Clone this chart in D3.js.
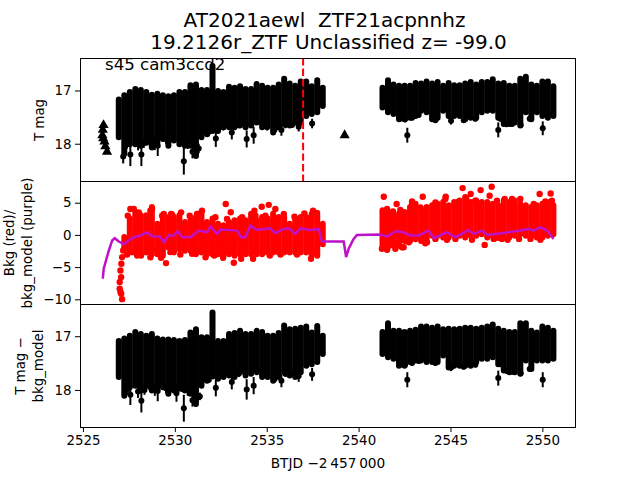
<!DOCTYPE html>
<html><head><meta charset="utf-8">
<script src="https://cdn.jsdelivr.net/npm/d3@7"></script>
<style>html,body{margin:0;padding:0;background:#fff}svg{display:block}text{font-family:"DejaVu Sans",sans-serif;fill:#000;white-space:pre}</style>
</head><body><svg id="c" width="640" height="480"></svg>
<script>
const titleLines = ["AT2021aewl  ZTF21acpnnhz", "19.2126r_ZTF Unclassified z= -99.0"];
const sectorLabel = "s45 cam3ccd2";
const xTicks = [2525, 2530, 2535, 2540, 2545, 2550];
const magTicks = [17, 18];
const bkgTicks = [5, 0, -5, -10];
const flagTime = 2536.98;

// Sampling times of the dense light-curve bands
const leftT = [2526.95,2527.25,2527.55,2527.85,2528.15,2528.45,2528.75,2529.05,2529.35,2529.65,2529.95,2530.25,2530.55,2530.85,2531.15,2531.45,2531.75,2532.05,2532.35,2532.65,2532.95,2533.25,2533.55,2533.85,2534.15,2534.45,2534.75,2535.05,2535.35,2535.65,2535.95,2536.25,2536.55,2536.85,2537.15,2537.45,2537.75,2538.05];
const rightT = [2541.3,2541.6,2541.9,2542.2,2542.5,2542.8,2543.1,2543.4,2543.7,2544.0,2544.3,2544.6,2544.9,2545.2,2545.5,2545.8,2546.1,2546.4,2546.7,2547.0,2547.3,2547.6,2547.9,2548.2,2548.5,2548.8,2549.1,2549.4,2549.7,2550.0,2550.3,2550.6];

// Top panel: T mag, bright and faint edges of the band
const magLeftHi = [17.17,17.09,17.03,16.97,16.99,17.03,17.08,17.06,17.09,17.11,17.09,17.03,17.03,16.90,16.89,16.99,16.99,16.54,17.01,17.03,16.93,16.95,16.92,16.97,16.97,16.88,16.91,16.95,16.95,16.89,16.78,16.87,16.91,16.83,16.83,16.92,16.81,16.95];
const magLeftLo = [17.88,18.19,18.01,18.01,18.04,17.98,18.07,17.98,17.91,18.04,17.94,18.01,18.04,18.04,18.23,17.88,17.82,17.76,17.76,17.69,17.69,17.69,17.66,17.69,17.66,17.60,17.69,17.66,17.79,17.69,17.63,17.66,17.60,17.60,17.48,17.44,17.41,17.29];
const magRightHi = [16.95,16.81,16.89,16.91,16.91,16.91,16.86,16.87,16.83,16.87,16.84,16.91,16.86,16.90,16.90,16.87,16.84,16.89,16.84,16.84,16.79,16.87,16.86,16.91,16.91,16.78,16.74,16.89,16.91,16.83,16.83,16.92];
const magRightLo = [17.32,17.41,17.44,17.54,17.54,17.51,17.48,17.38,17.41,17.54,17.51,17.38,17.48,17.48,17.48,17.54,17.51,17.51,17.41,17.38,17.38,17.51,17.63,17.63,17.60,17.66,17.41,17.54,17.41,17.48,17.51,17.48];
const magOutT = [2527.19,2527.58,2528.18,2529.07,2530.49,2531.12,2532.23,2533.10,2533.91,2534.29,2535.80,2536.74,2537.47,2542.65,2547.60,2550.02,
  2527.40,2528.0,2528.31,2528.64,2528.91,2529.52,2529.85,2530.30,2530.70,2530.96,2531.30,2531.85,2532.63,2533.48,2534.48,2535.02,2535.42,2536.02,2536.38,
  2542.24,2542.53,2542.91,2543.27,2544.18,2545.03,2545.72,2546.35,2547.71,2548.04,2548.35,2548.82,2549.31];
const magOutV = [18.24,18.20,18.20,18.04,18.33,18.10,17.90,17.79,17.91,17.84,17.74,17.68,17.62,17.84,17.74,17.71,
  17.98,18.0,17.99,17.96,18.01,17.91,17.88,17.96,17.99,18.15,18.09,17.78,17.69,17.65,17.59,17.69,17.74,17.65,17.65,
  17.53,17.54,17.51,17.46,17.56,17.57,17.56,17.53,17.53,17.63,17.63,17.65,17.53];
const magOutE = [0.13,0.22,0.22,0.19,0.25,0.16,0.16,0.13,0.16,0.16,0.11,0.09,0.09,0.14,0.14,0.13,
  0.11,0.125,0.09,0.09,0.11,0.09,0.08,0.09,0.11,0.125,0.09,0.08,0.06,0.06,0.05,0.06,0.06,0.06,0.05,
  0.06,0.06,0.05,0.05,0.05,0.07,0.05,0.05,0.05,0.06,0.05,0.05,0.05];
const limitT = [2526.12,2526.08,2526.06,2526.10,2526.17,2526.22,2526.31,2539.24];
const limitV = [17.65,17.74,17.84,17.90,17.96,18.05,18.15,17.84];

// Middle panel: background (red) and background model (purple)
const bkgLeftT = leftT.slice(1);
const bkgLeftHi = [-0.31,2.53,3.56,3.04,3.04,4.33,1.75,2.78,2.78,2.78,3.04,2.01,2.53,2.78,3.30,2.01,2.53,1.75,1.49,2.01,2.27,2.53,2.27,3.30,2.27,2.78,2.53,3.30,2.78,2.78,1.75,2.53,2.78,2.78,3.30,3.04,1.75];
const bkgLeftLo = [-2.22,-2.73,-2.73,-2.73,-2.73,-2.99,-2.99,-3.25,-1.96,-2.73,-2.22,-2.47,-2.47,-2.99,-2.73,-2.99,-2.99,-2.99,-3.25,-2.99,-3.25,-2.99,-2.99,-2.99,-2.99,-2.99,-2.73,-2.73,-2.73,-2.73,-2.73,-2.73,-2.73,-2.73,-3.25,-3.25,-1.44];
const bkgRightHi = [3.81,3.56,3.04,3.30,3.56,4.33,4.85,4.07,4.33,4.59,4.85,5.10,4.59,5.10,5.36,5.88,5.10,5.36,5.10,5.10,4.85,4.59,5.36,5.10,5.36,4.85,4.59,4.33,4.59,4.85,5.10,4.59];
const bkgRightLo = [-1.96,-1.86,-1.70,-1.70,-0.93,-0.93,-0.67,-0.93,-0.93,-0.15,-0.15,-0.41,-0.41,-0.15,-0.15,-0.41,-0.15,-0.15,0.10,-0.41,-0.15,-0.41,-0.41,-0.41,-0.15,0.10,-0.15,-0.15,-0.41,-0.41,-0.15,0.10];
const bkgDotT = [2527.13,2527.09,2527.04,2527.08,2527.00,2527.00,2527.04,2527.08,2527.13,2527.19,2528.76,2529.52,2532.77,2533.04,2533.21,2534.73,2535.11,2534.33,2535.47,2537.41,2537.61,2530.94,2527.58,2527.77,2529.40,2529.85,2531.48,2531.30,2541.37,2542.07,2543.49,2545.66,2546.10,2546.64,2547.24,2547.13,2549.85,2550.45,2544.74,2546.86,2543.63,2544.81,2548.11,2548.73,2546.17,2547.53,2545.86,2547.95,2542.36,2542.91,
  2527.40,2527.71,2527.95,2528.16,2528.67,2528.89,2529.25,2529.76,2530.30,2531.67,2532.15,2532.63,2533.61,2534.26,2535.17,2535.75,2536.65,
  2527.44,2528.04,2528.67,2529.31,2529.80,2530.34,2530.81,2531.21,2532.21,2532.84,2533.66,2534.39,2534.93,2535.93,2536.51,2537.05,2537.52,2537.74,
  2541.27,2541.55,2542.0,2542.45,2542.73,2543.72,2544.18,2545.27,2547.35,2547.80,2549.35,2549.89,
  2541.55,2541.87,2542.27,2542.91,2543.36,2544.18,2544.72,2545.45,2546.35,2547.53,2548.35,2548.80,2549.53,2550.16,2550.52];
const bkgDotV = [-3.45,-4.48,-5.52,-6.55,-7.32,-8.35,-8.87,-9.12,-9.98,-2.42,4.07,-4.38,4.79,3.51,-4.33,4.36,4.67,3.75,4.02,-3.71,-2.68,-2.94,4.02,4.02,3.25,3.14,3.75,3.25,5.93,4.79,5.93,7.27,6.34,6.96,7.47,6.08,6.34,6.44,5.93,-1.55,-1.29,-0.77,-0.77,-0.62,-0.77,-0.46,5.72,5.57,-1.91,5.21,
  -3.04,-2.68,-3.20,-3.20,-3.46,-2.16,-3.56,-2.68,-3.04,-3.46,-3.20,-3.56,-3.71,-3.71,-3.20,-3.04,-3.04,
  2.98,3.50,3.76,2.98,3.25,3.50,2.98,3.25,2.73,2.47,2.73,2.98,2.98,3.25,2.83,3.35,3.76,3.40,
  -2.16,-2.32,-2.16,-1.91,-1.13,-1.13,-0.62,-0.62,-0.62,-0.62,-0.62,-0.77,
  4.02,3.66,3.87,4.79,4.28,5.05,5.57,5.21,5.31,5.31,5.57,5.57,4.82,5.21,5.31];
const modelT = [2526.08,2526.13,2526.28,2526.41,2526.59,2526.73,2526.95,2527.22,2527.49,2527.77,2528.13,2528.49,2528.76,2529.18,2529.40,2529.67,2529.94,2530.16,2530.40,2530.85,2531.30,2531.76,2531.94,2532.30,2532.48,2533.39,2533.61,2533.84,2534.11,2534.48,2535.20,2535.47,2535.93,2536.20,2536.56,2536.83,2537.38,2537.83,2538.01,2538.06,2539.19,2539.32,2539.46,2539.73,2539.91,2541.18,2541.55,2542.00,2542.45,2542.82,2543.27,2543.81,2544.09,2544.81,2545.27,2545.99,2546.26,2546.72,2546.99,2547.89,2548.80,2549.25,2549.53,2549.89,2550.25,2550.61];
const modelV = [-6.80,-5.26,-3.71,-2.42,-0.88,-0.52,-1.03,-1.44,-0.88,-0.36,-0.10,0.41,-0.21,-0.26,-1.13,-0.10,-0.10,0.57,-0.36,-0.36,0.67,0.41,1.29,0.15,0.82,0.67,-0.36,-0.36,1.44,0.77,1.03,0.26,0.93,1.03,0.15,1.03,0.77,0.93,-1.03,-1.03,-1.03,-3.45,-2.16,-0.62,0,0.05,-0.26,0.57,0.41,-0.10,-0.10,0.67,-0.52,0.41,-0.36,0.77,0.15,0.67,0,0.31,0.67,0.93,0.67,1.19,0.67,-0.62];

// Bottom panel: T mag minus background model
const detLeftHi = [17.09,17.04,16.99,16.92,16.96,16.99,16.96,17.04,17.06,17.06,17.07,17.09,17.07,16.93,16.87,17.02,17.02,16.56,17.09,17.09,16.96,16.94,16.90,16.96,16.96,16.90,16.92,16.99,16.99,16.94,16.80,16.87,16.86,16.84,16.82,16.93,16.81,16.99];
const detLeftLo = [17.76,18.11,17.95,17.92,18.01,17.92,18.01,17.98,17.95,18.07,18.01,17.98,18.01,18.07,18.26,17.92,17.83,17.75,17.79,17.76,17.73,17.76,17.67,17.73,17.70,17.67,17.76,17.76,17.83,17.76,17.67,17.73,17.76,17.67,17.55,17.52,17.48,17.33];
const detRightHi = [16.92,16.76,16.90,16.90,16.92,16.90,16.88,16.82,16.82,16.84,16.82,16.87,16.86,16.87,16.86,16.84,16.84,16.86,16.84,16.82,16.78,16.86,16.90,16.92,16.92,16.76,16.76,16.90,16.93,16.82,16.84,16.90];
const detRightLo = [17.33,17.39,17.42,17.55,17.55,17.48,17.45,17.45,17.48,17.48,17.48,17.36,17.58,17.55,17.55,17.55,17.55,17.48,17.42,17.42,17.39,17.52,17.64,17.67,17.67,17.70,17.45,17.61,17.45,17.45,17.45,17.42];
const detOutT = [2527.58,2528.18,2529.07,2530.09,2530.49,2531.12,2532.23,2533.10,2533.91,2534.29,2535.80,2536.74,2537.47,2542.65,2547.60,2550.02,
  2527.40,2528.0,2528.35,2528.67,2528.91,2529.52,2529.85,2530.39,2530.70,2530.96,2531.36,2531.85,2532.63,2533.48,2534.48,2535.02,2535.42,2536.02,2536.38,
  2542.24,2542.53,2542.91,2543.27,2544.18,2545.03,2545.72,2546.35,2547.71,2548.04,2548.35,2548.82,2549.31];
const detOutV = [18.09,18.20,18.02,18.06,18.34,18.15,17.96,17.85,17.99,17.92,17.83,17.74,17.71,17.81,17.78,17.81,
  18.0,18.03,18.0,17.95,18.0,17.97,17.91,17.95,18.0,18.19,18.12,17.81,17.74,17.70,17.64,17.74,17.80,17.70,17.69,
  17.53,17.53,17.50,17.46,17.50,17.58,17.57,17.53,17.52,17.64,17.66,17.69,17.61];
const detOutE = [0.19,0.22,0.19,0.16,0.25,0.16,0.16,0.14,0.19,0.16,0.12,0.11,0.12,0.14,0.14,0.14,
  0.09,0.12,0.09,0.09,0.11,0.09,0.07,0.09,0.11,0.12,0.07,0.06,0.05,0.06,0.05,0.06,0.06,0.06,0.05,
  0.06,0.06,0.05,0.05,0.05,0.07,0.05,0.05,0.05,0.06,0.05,0.05,0.05];

const svg = d3.select("#c");
const L = 80, R = 576;
const P1 = [58, 181], P2 = [181, 304], P3 = [304, 427];
const x = d3.scaleLinear().domain([2524.84, 2551.83]).range([L, R]);
const y1 = d3.scaleLinear().domain([18.70, 16.39]).range([P1[1], P1[0]]);
const y2 = d3.scaleLinear().domain([-10.73, 8.37]).range([P2[1], P2[0]]);
const y3 = d3.scaleLinear().domain([18.69, 16.40]).range([P3[1], P3[0]]);

function band(t, hi, lo, y, color) {
  svg.append("g").selectAll("line").data(t).join("line")
    .attr("x1", d => x(d)).attr("x2", d => x(d))
    .attr("y1", (d, i) => y(hi[i])).attr("y2", (d, i) => y(lo[i]))
    .attr("stroke", color).attr("stroke-width", 6).attr("stroke-linecap", "round");
}
function errPoints(t, v, e, y) {
  const g = svg.append("g");
  g.selectAll("line").data(t).join("line")
    .attr("x1", d => x(d)).attr("x2", d => x(d))
    .attr("y1", (d, i) => y(v[i] - e[i])).attr("y2", (d, i) => y(v[i] + e[i]))
    .attr("stroke", "#000").attr("stroke-width", 2);
  g.selectAll("circle").data(t).join("circle")
    .attr("cx", d => x(d)).attr("cy", (d, i) => y(v[i])).attr("r", 3).attr("fill", "#000");
}

// Panel 1
band(leftT, magLeftHi, magLeftLo, y1, "#000");
band(rightT, magRightHi, magRightLo, y1, "#000");
errPoints(magOutT, magOutV, magOutE, y1);
svg.append("g").selectAll("path").data(limitT).join("path")
  .attr("d", d3.symbol(d3.symbolTriangle, 45))
  .attr("transform", (d, i) => `translate(${x(d)},${y1(limitV[i])})`).attr("fill", "#000");
svg.append("line").attr("x1", x(flagTime)).attr("x2", x(flagTime))
  .attr("y1", P1[0]).attr("y2", P1[1]).attr("stroke", "#f00")
  .attr("stroke-width", 2).attr("stroke-dasharray", "7.4,3.2");
svg.append("text").attr("x", 105).attr("y", 70).attr("font-size", 16.6).text(sectorLabel);

// Panel 2
band(bkgLeftT, bkgLeftHi, bkgLeftLo, y2, "#f00");
band(rightT, bkgRightHi, bkgRightLo, y2, "#f00");
svg.append("g").selectAll("circle").data(bkgDotT).join("circle")
  .attr("cx", d => x(d)).attr("cy", (d, i) => y2(bkgDotV[i])).attr("r", 3.2).attr("fill", "#f00");
svg.append("path").datum(modelT)
  .attr("d", d3.line().x(d => x(d)).y((d, i) => y2(modelV[i])))
  .attr("fill", "none").attr("stroke", "#bf12c8").attr("stroke-width", 2.5);

// Panel 3
band(leftT, detLeftHi, detLeftLo, y3, "#000");
band(rightT, detRightHi, detRightLo, y3, "#000");
errPoints(detOutT, detOutV, detOutE, y3);

// Frames and axes
const fmt = d => String(d).replace("-", "\u2212");
function yAxis(scale, ticks) {
  const g = svg.append("g").attr("transform", `translate(${L},0)`)
    .call(d3.axisLeft(scale).tickValues(ticks).tickFormat(fmt).tickSize(5).tickPadding(3.5));
  g.select(".domain").remove();
  g.selectAll("line").attr("stroke", "#000").attr("stroke-width", 1);
  g.selectAll("text").attr("font-size", 13.4).attr("font-family", '"DejaVu Sans"');
}
yAxis(y1, magTicks); yAxis(y2, bkgTicks); yAxis(y3, magTicks);
const xg = svg.append("g").attr("transform", `translate(0,${P3[1]})`)
  .call(d3.axisBottom(x).tickValues(xTicks).tickFormat(d3.format("d")).tickSize(5).tickPadding(3.5));
xg.select(".domain").remove();
xg.selectAll("line").attr("stroke", "#000").attr("stroke-width", 1);
xg.selectAll("text").attr("font-size", 13.4).attr("font-family", '"DejaVu Sans"');
[P1, P2, P3].forEach(p => svg.append("rect").attr("x", L + .5).attr("y", p[0] + .5)
  .attr("width", R - L - 1).attr("height", p[1] - p[0])
  .attr("fill", "none").attr("stroke", "#000").attr("stroke-width", 1));

// Text
svg.selectAll("text.title").data(titleLines).join("text").attr("class", "title")
  .attr("x", (d, i) => i === 0 ? 324.5 : 328.5).attr("y", (d, i) => 27 + i * 21.5).attr("text-anchor", "middle")
  .attr("font-size", 20).text(d => d);
svg.append("text").attr("x", 328).attr("y", 468).attr("text-anchor", "middle")
  .attr("font-size", 13.7).text("BTJD \u22122\u2009457\u2009000");
function rot(cx, cy, s) {
  svg.append("text").attr("transform", `translate(${cx},${cy}) rotate(-90)`)
    .attr("text-anchor", "middle").attr("font-size", 13.4).text(s);
}
rot(44, 120, "T mag");
rot(14, 243, "Bkg (red)/");
rot(32, 243, "bkg_model (purple)");
rot(25, 366, "T mag \u2212");
rot(43, 366, "bkg_model");
</script></body></html>
